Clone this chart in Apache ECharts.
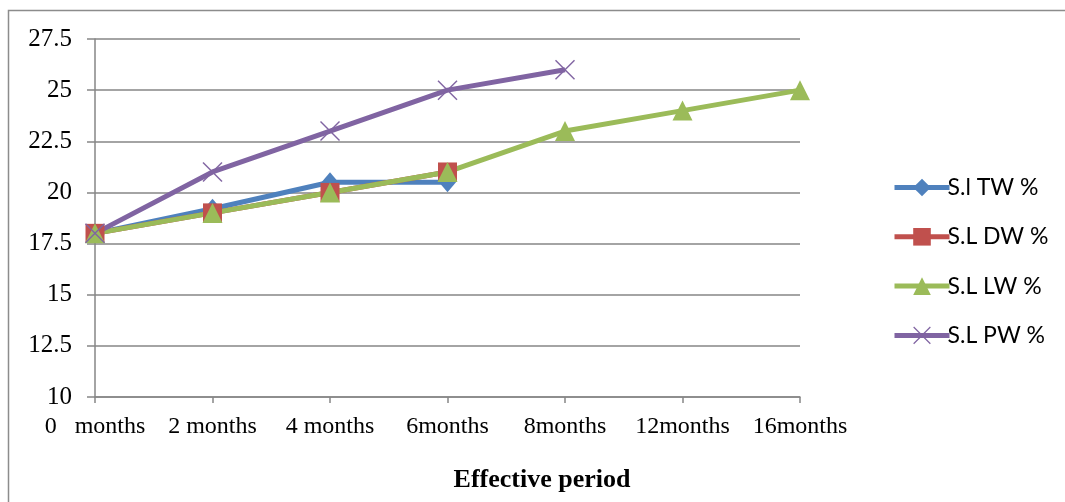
<!DOCTYPE html>
<html>
<head>
<meta charset="utf-8">
<script src="https://cdn.jsdelivr.net/npm/echarts@6/dist/echarts.min.js"></script>
<style>
  html, body { margin: 0; padding: 0; background: #fff; }
  #chart { width: 1065px; height: 502px; }
</style>
</head>
<body>
<div id="chart"></div>
<script>
// Effective period categories
const periods = ['0   months', '2 months', '4 months', '6months', '8months', '12months', '16months'];

// Series values (%) per period
const slTW = [18, 19.2, 20.5, 20.5];
const slDW = [18, 19, 20, 21];
const slLW = [18, 19, 20, 21, 23, 24, 25];
const slPW = [18, 21, 23, 25, 26];

const seriesNames = ['S.l TW %', 'S.L DW %', 'S.L LW %', 'S.L PW %'];
const colors = ['#4F81BD', '#C0504D', '#9BBB59', '#8064A2'];

const serif = 'Liberation Serif';
const crossPath = 'path://M0,1L1,0L20,19L19,20Z M19,0L20,1L1,20L0,19Z';

function lineSeries(name, data, color, symbol, size) {
  return {
    name: name,
    type: 'line',
    data: data,
    symbol: symbol,
    symbolSize: size,
    showAllSymbol: true,
    lineStyle: { color: color, width: 5 },
    itemStyle: { color: color },
    emphasis: { disabled: true },
    animation: false
  };
}

const chart = echarts.init(document.getElementById('chart'), null, { renderer: 'canvas' });

chart.setOption({
  backgroundColor: '#fff',
  animation: false,
  color: colors,
  graphic: [
    {
      type: 'polyline',
      shape: { points: [[8.5, 520], [8.5, 10.5], [1070, 10.5]] },
      style: { stroke: '#8c8c8c', lineWidth: 1.5, fill: null },
      silent: true
    },
    {
      type: 'text',
      x: 542,
      y: 480,
      style: {
        text: 'Effective period',
        font: 'bold 26px "Liberation Serif"',
        fill: '#000',
        align: 'center',
        verticalAlign: 'middle'
      },
      silent: true
    }
  ],
  grid: { left: 95, right: 265, top: 39, bottom: 105, containLabel: false },
  legend: {
    orient: 'vertical',
    left: 887,
    top: 171,
    itemWidth: 55,
    itemHeight: 22,
    itemGap: 26.3,
    data: seriesNames,
    lineStyle: { width: 5 },
    textStyle: { fontFamily: 'Lato', fontSize: 23, color: '#000', padding: [0, 0, 0, -7] },
    selectedMode: false
  },
  xAxis: {
    type: 'category',
    data: periods,
    boundaryGap: false,
    axisLine: { show: true, lineStyle: { color: '#868686', width: 1.5 } },
    axisTick: { show: true, length: 6, alignWithLabel: true, lineStyle: { color: '#868686', width: 1.5 } },
    axisLabel: { color: '#000', fontFamily: serif, fontSize: 24, margin: 18, interval: 0 },
    splitLine: { show: false }
  },
  yAxis: {
    type: 'value',
    min: 10,
    max: 27.5,
    interval: 2.5,
    axisLine: { show: true, lineStyle: { color: '#868686', width: 1.5 } },
    axisTick: { show: true, length: 8, lineStyle: { color: '#868686', width: 1.5 } },
    axisLabel: { color: '#000', fontFamily: serif, fontSize: 25, margin: 23 },
    splitLine: { show: true, lineStyle: { color: '#868686', width: 1.5 } }
  },
  series: [
    lineSeries(seriesNames[0], slTW, colors[0], 'diamond', [17, 20]),
    lineSeries(seriesNames[1], slDW, colors[1], 'rect', 19),
    lineSeries(seriesNames[2], slLW, colors[2], 'triangle', 20),
    lineSeries(seriesNames[3], slPW, colors[3], crossPath, 20)
  ]
});
</script>
</body>
</html>
